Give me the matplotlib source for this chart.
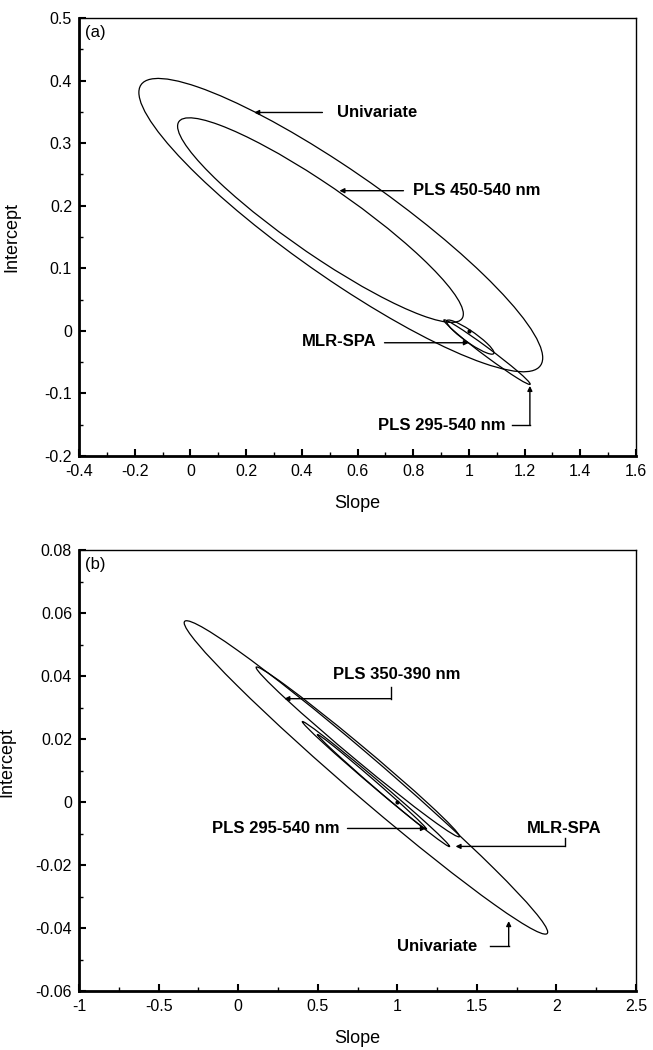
import numpy as np
import matplotlib
matplotlib.use('Agg')
import matplotlib.pyplot as plt
from matplotlib.patches import Ellipse
from matplotlib.transforms import Affine2D
from matplotlib.ticker import MultipleLocator, FuncFormatter

plt.rcParams['font.family'] = ['Liberation Sans', 'DejaVu Sans']
plt.rcParams['axes.unicode_minus'] = False

# Joint confidence ellipses.
# outline: x = cx + a*cos(t), y = cy + b*cos(t) + c*sin(t)
# panel (a)
a_names = ['Univariate', 'PLS 450-540 nm', 'MLR-SPA', 'PLS 295-540 nm']
a_cx = [0.540, 0.467, 1.005, 1.065]
a_cy = [0.169, 0.177, -0.010, -0.034]
a_a = [0.725, 0.513, 0.085, 0.155]
a_b = [-0.212, -0.150, -0.025, -0.051]
a_c = [0.100, 0.065, 0.011, 0.0080]

# panel (b)
b_names = ['Univariate', 'PLS 350-390 nm', 'MLR-SPA', 'PLS 295-540 nm']
b_cx = [0.803, 0.752, 0.866, 0.841]
b_cy = [0.0078, 0.0159, 0.0057, 0.0064]
b_a = [1.142, 0.639, 0.463, 0.343]
b_b = [-0.0491, -0.0268, -0.0198, -0.0150]
b_c = [0.0080, 0.0030, 0.0016, 0.0011]

# ideal point (slope 1, intercept 0)
ideal = (1.0, 0.0)

# annotation labels: text position, alignment, path of the arrow (last point = head)
a_labels = [
    ('Univariate', 0.528, 0.349, 'left', [(0.474, 0.349), (0.229, 0.349)]),
    ('PLS 450-540 nm', 0.800, 0.224, 'left', [(0.765, 0.224), (0.535, 0.224)]),
    ('MLR-SPA', 0.670, -0.017, 'right', [(0.697, -0.019), (1.000, -0.019)]),
    ('PLS 295-540 nm', 1.130, -0.151, 'right', [(1.154, -0.151), (1.219, -0.151), (1.219, -0.088)]),
]
b_labels = [
    ('PLS 350-390 nm', 0.997, 0.0405, 'center', [(0.963, 0.0366), (0.963, 0.0328), (0.290, 0.0328)]),
    ('PLS 295-540 nm', 0.640, -0.0084, 'right', [(0.687, -0.0084), (1.180, -0.0084)]),
    ('MLR-SPA', 2.050, -0.0085, 'center', [(2.052, -0.0115), (2.052, -0.0141), (1.366, -0.0141)]),
    ('Univariate', 1.505, -0.0458, 'right', [(1.580, -0.0458), (1.700, -0.0458), (1.700, -0.0378)]),
]


def draw_panel(ax, cx, cy, ea, eb, ec, labels, tag):
    for x0, y0, a, b, c in zip(cx, cy, ea, eb, ec):
        e = Ellipse((0, 0), 2, 2, fill=False, edgecolor='black', lw=0.9)
        m = Affine2D(np.array([[a, 0, x0], [b, c, y0], [0, 0, 1]]))
        e.set_transform(m + ax.transData)
        ax.add_patch(e)
    ax.plot([ideal[0]], [ideal[1]], 'o', color='black', ms=2)
    for txt, tx, ty, ha, path in labels:
        ax.text(tx, ty, txt, ha=ha, va='center', fontsize=12, fontweight='bold')
        if len(path) > 2:
            xs = [p[0] for p in path[:-1]]
            ys = [p[1] for p in path[:-1]]
            ax.plot(xs, ys, color='black', lw=1.0)
        ax.annotate('', xy=path[-1], xytext=path[-2],
                    arrowprops=dict(arrowstyle='-|>', color='black', lw=1.0,
                                    mutation_scale=7, shrinkA=0, shrinkB=0))
    ax.text(0.01, 0.985, tag, transform=ax.transAxes, ha='left', va='top', fontsize=12)
    for side in ['left', 'bottom']:
        ax.spines[side].set_linewidth(2.0)
    for side in ['top', 'right']:
        ax.spines[side].set_linewidth(1.0)
    ax.tick_params(which='both', direction='in', top=False, right=False, labelsize=11.5)
    ax.tick_params(axis='x', which='both', pad=6)
    ax.tick_params(axis='y', which='both', pad=5)
    ax.tick_params(which='major', length=5, width=1.5)
    ax.tick_params(which='minor', length=3, width=1.0)
    fmt = FuncFormatter(lambda v, p: '%g' % (round(v, 6) + 0.0))
    ax.xaxis.set_major_formatter(fmt)
    ax.yaxis.set_major_formatter(fmt)
    ax.set_xlabel('Slope', fontsize=13, labelpad=11)
    ax.set_ylabel('Intercept', fontsize=13)


fig = plt.figure(figsize=(6.53, 10.5), dpi=100)
ax1 = fig.add_axes([79 / 653, 1 - 456 / 1050, 557 / 653, 438 / 1050])
ax2 = fig.add_axes([79 / 653, 1 - 991 / 1050, 557 / 653, 441 / 1050])

draw_panel(ax1, a_cx, a_cy, a_a, a_b, a_c, a_labels, '(a)')
ax1.set_xlim(-0.4, 1.6)
ax1.set_ylim(-0.2, 0.5)
ax1.xaxis.set_major_locator(MultipleLocator(0.2))
ax1.xaxis.set_minor_locator(MultipleLocator(0.1))
ax1.yaxis.set_major_locator(MultipleLocator(0.1))
ax1.yaxis.set_minor_locator(MultipleLocator(0.05))
ax1.yaxis.set_label_coords(-0.105, 0.5)

draw_panel(ax2, b_cx, b_cy, b_a, b_b, b_c, b_labels, '(b)')
ax2.set_xlim(-1, 2.5)
ax2.set_ylim(-0.06, 0.08)
ax2.xaxis.set_major_locator(MultipleLocator(0.5))
ax2.xaxis.set_minor_locator(MultipleLocator(0.25))
ax2.yaxis.set_major_locator(MultipleLocator(0.02))
ax2.yaxis.set_minor_locator(MultipleLocator(0.01))
ax2.yaxis.set_label_coords(-0.114, 0.52)

fig.savefig('out.png', dpi=100)
